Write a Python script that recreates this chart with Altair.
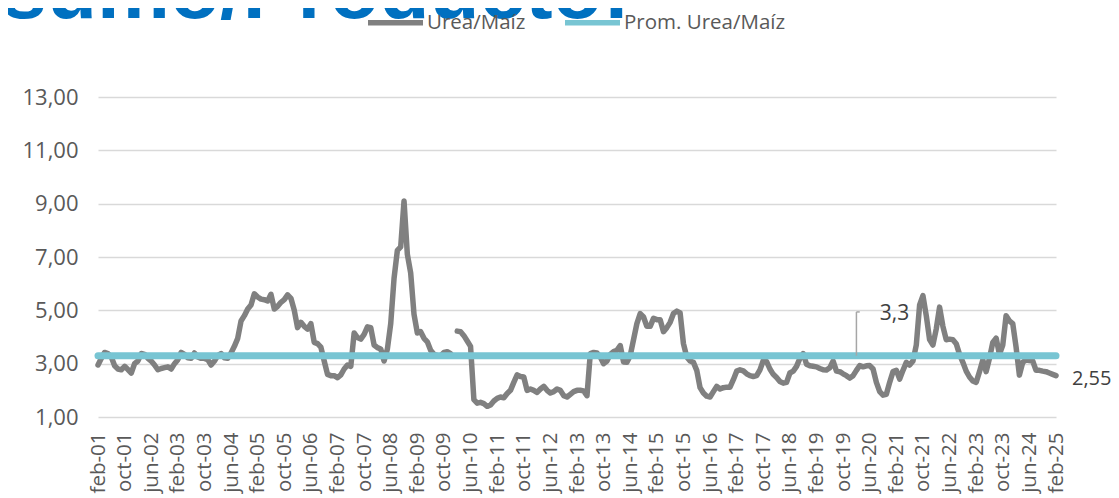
import altair as alt
import pandas as pd

# ---------------- data ----------------
MESES = ["ene", "feb", "mar", "abr", "may", "jun", "jul", "ago", "sep", "oct", "nov", "dic"]
N_MESES = 289  # feb-01 .. feb-25
CATEGORIES = []
for k in range(N_MESES):
    m = (1 + k) % 12
    yy = 2001 + (1 + k) // 12
    CATEGORIES.append(f"{MESES[m]}-{yy % 100:02d}")

TICK_LABELS = ["feb-01", "oct-01", "jun-02", "feb-03", "oct-03", "jun-04", "feb-05", "oct-05",
               "jun-06", "feb-07", "oct-07", "jun-08", "feb-09", "oct-09", "jun-10", "feb-11",
               "oct-11", "jun-12", "feb-13", "oct-13", "jun-14", "feb-15", "oct-15", "jun-16",
               "feb-17", "oct-17", "jun-18", "feb-19", "oct-19", "jun-20", "feb-21", "oct-21",
               "jun-22", "feb-23", "oct-23", "jun-24", "feb-25"]

UREA_MAIZ = [
    2.95, 3.2, 3.42, 3.38, 3.25, 2.92, 2.8, 2.77, 2.9, 2.78, 2.65, 3.0,
    3.1, 3.38, 3.35, 3.2, 3.1, 2.95, 2.77, 2.82, 2.85, 2.88, 2.8, 3.0,
    3.15, 3.42, 3.35, 3.22, 3.2, 3.4, 3.25, 3.2, 3.2, 3.15, 2.95, 3.1,
    3.3, 3.38, 3.22, 3.2, 3.4, 3.65, 3.95, 4.6, 4.8, 5.05, 5.2, 5.62,
    5.5, 5.42, 5.4, 5.35, 5.6, 5.05, 5.15, 5.3, 5.4, 5.58, 5.45, 5.0,
    4.35, 4.55, 4.4, 4.3, 4.5, 3.8, 3.75, 3.62, 3.1, 2.6, 2.55, 2.55,
    2.47, 2.58, 2.8, 2.95, 2.9, 4.15, 3.98, 3.92, 4.1, 4.38, 4.35, 3.7,
    3.6, 3.55, 3.1, 3.55, 4.5, 6.2, 7.25, 7.38, 9.1, 7.1, 6.4, 4.85,
    4.15, 4.2, 3.95, 3.82, 3.5, 3.35, 3.3, 3.3, 3.42, 3.45, 3.38, None,
    4.22, 4.2, 4.05, 3.85, 3.65, 1.65, 1.52, 1.55, 1.5, 1.4, 1.45, 1.6,
    1.7, 1.75, 1.72, 1.88, 2.0, 2.3, 2.58, 2.52, 2.5, 2.0, 2.05, 2.0,
    1.92, 2.05, 2.15, 2.0, 1.9, 1.95, 2.05, 2.0, 1.8, 1.75, 1.85, 1.95,
    2.0, 2.0, 1.98, 1.8, 3.38, 3.42, 3.4, 3.25, 3.0, 3.1, 3.35, 3.45,
    3.5, 3.68, 3.06, 3.05, 3.3, 3.9, 4.5, 4.88, 4.75, 4.4, 4.4, 4.7,
    4.65, 4.65, 4.2, 4.35, 4.55, 4.88, 4.97, 4.9, 3.75, 3.25, 3.1, 3.05,
    2.75, 2.1, 1.9, 1.78, 1.75, 1.95, 2.15, 2.05, 2.1, 2.12, 2.12, 2.4,
    2.72, 2.77, 2.73, 2.62, 2.55, 2.52, 2.55, 2.77, 3.12, 3.08, 2.8, 2.6,
    2.48, 2.33, 2.27, 2.3, 2.65, 2.72, 2.9, 3.2, 3.38, 2.98, 2.92, 2.9,
    2.88, 2.82, 2.77, 2.76, 2.85, 3.1, 2.72, 2.7, 2.62, 2.55, 2.46, 2.55,
    2.75, 2.88, 2.92, 2.93, 2.93, 2.8, 2.3, 1.95, 1.82, 1.85, 2.3, 2.7,
    2.75, 2.42, 2.75, 3.05, 2.95, 3.1, 3.7, 5.2, 5.55, 4.8, 3.9, 3.7,
    4.3, 5.12, 4.4, 3.9, 3.92, 3.9, 3.75, 3.35, 3.05, 2.72, 2.5, 2.35,
    2.3, 2.7, 3.14, 2.7, 3.2, 3.8, 3.96, 3.35, 3.7, 4.8, 4.6, 4.5,
    3.62, 2.57, 3.05, 3.14, 3.12, 3.1, 2.75, 2.75, 2.72, 2.7, 2.65, 2.6, 2.55,
]
PROM = 3.3
SERIES = ["Urea/Maíz", "Prom. Urea/Maíz"]
COLORS = ["#808080", "#78C5D3"]
TITLE = "Insumo/Producto:"

# annotation (callout for the average)
CALLOUT_MES = "feb-20"
CALLOUT_MES_END = "may-20"
CALLOUT_TEXT_MES = "sep-20"
CALLOUT_TOP = 4.94

df_urea = pd.DataFrame({"mes": CATEGORIES, "valor": UREA_MAIZ, "serie": SERIES[0]})
df_prom = pd.DataFrame({"mes": CATEGORIES, "valor": [PROM] * N_MESES, "serie": SERIES[1]})
df_last = pd.DataFrame({"mes": [CATEGORIES[-1]], "valor": [UREA_MAIZ[-1]],
                        "t": [f"{UREA_MAIZ[-1]:.2f}".replace(".", ",")]})
df_callv = pd.DataFrame({"mes": [CALLOUT_MES], "y": [PROM], "y2": [CALLOUT_TOP]})
df_callh = pd.DataFrame({"mes": [CALLOUT_MES], "mes2": [CALLOUT_MES_END], "y": [CALLOUT_TOP]})
df_calltxt = pd.DataFrame({"mes": [CALLOUT_TEXT_MES], "y": [CALLOUT_TOP - 0.08],
                           "t": [f"{PROM:.1f}".replace(".", ",")]})
df_title = pd.DataFrame({"t": [TITLE]})

FONT = "Open Sans"
LABEL_COLOR = "#595959"

x_enc = alt.X("mes:O", sort=CATEGORIES,
              scale=alt.Scale(type="point", padding=0),
              axis=alt.Axis(values=TICK_LABELS, labelAngle=270, labelFontSize=20.5,
                            labelFont=FONT, labelColor=LABEL_COLOR, labelPadding=15,
                            ticks=False, domain=False, grid=False, labelOverlap=False,
                            title=None))
y_scale = alt.Scale(domain=[1, 13], nice=False, zero=False)
y_enc = alt.Y("valor:Q", scale=y_scale,
              axis=alt.Axis(values=[1, 3, 5, 7, 9, 11, 13],
                            labelExpr="replace(format(datum.value, '.2f'), '.', ',')",
                            gridColor="#D9D9D9", gridWidth=1.5, domain=False, ticks=False,
                            labelPadding=20, labelFontSize=22, labelFont=FONT,
                            labelColor=LABEL_COLOR, title=None))

legend = alt.Legend(orient="none", legendX=267, legendY=-105, direction="horizontal",
                    symbolType="stroke", symbolSize=3025, symbolStrokeWidth=5.5,
                    labelFontSize=20.5, labelFont=FONT, labelColor=LABEL_COLOR,
                    labelOffset=1, labelLimit=400, columnPadding=28, padding=0, title=None)
color_enc = alt.Color("serie:N", scale=alt.Scale(domain=SERIES, range=COLORS), legend=legend)

title_layer = alt.Chart(df_title).mark_text(
    align="right", baseline="alphabetic", fontSize=82, fontWeight="bold",
    font="Liberation Sans", color="#0070C0", x=532, y=-79
).encode(text="t:N")

urea = alt.Chart(df_urea).mark_line(
    strokeWidth=5.5, strokeCap="round", strokeJoin="round",
    invalid="break-paths-show-domains"
).encode(x=x_enc, y=y_enc, color=color_enc)

prom = alt.Chart(df_prom).mark_line(strokeWidth=7, strokeCap="round").encode(
    x=x_enc, y=y_enc, color=color_enc)

callv = alt.Chart(df_callv).mark_rule(color="#A6A6A6", strokeWidth=1.5).encode(
    x=alt.X("mes:O", sort=CATEGORIES), y=alt.Y("y:Q", scale=y_scale), y2="y2:Q")
callh = alt.Chart(df_callh).mark_rule(color="#A6A6A6", strokeWidth=1.5).encode(
    x=alt.X("mes:O", sort=CATEGORIES), x2="mes2:O", y=alt.Y("y:Q", scale=y_scale))
calltxt = alt.Chart(df_calltxt).mark_text(
    align="left", baseline="middle", fontSize=21, font=FONT, color="#404040"
).encode(x=alt.X("mes:O", sort=CATEGORIES), y=alt.Y("y:Q", scale=y_scale), text="t:N")

lasttxt = alt.Chart(df_last).mark_text(
    align="left", baseline="middle", dx=16, dy=3, fontSize=20, font=FONT, color="#404040"
).encode(x=alt.X("mes:O", sort=CATEGORIES), y=alt.Y("valor:Q", scale=y_scale), text="t:N")

chart = alt.layer(title_layer, urea, prom, callv, callh, calltxt, lasttxt).properties(
    width=958, height=320,
    padding={"left": 90, "top": 89, "right": 55, "bottom": 81},
    autosize=alt.AutoSizeParams(type="none"),
    background="white",
).configure_view(strokeWidth=0)

chart.save("out.html", embed_options={"renderer": "svg", "actions": False})
